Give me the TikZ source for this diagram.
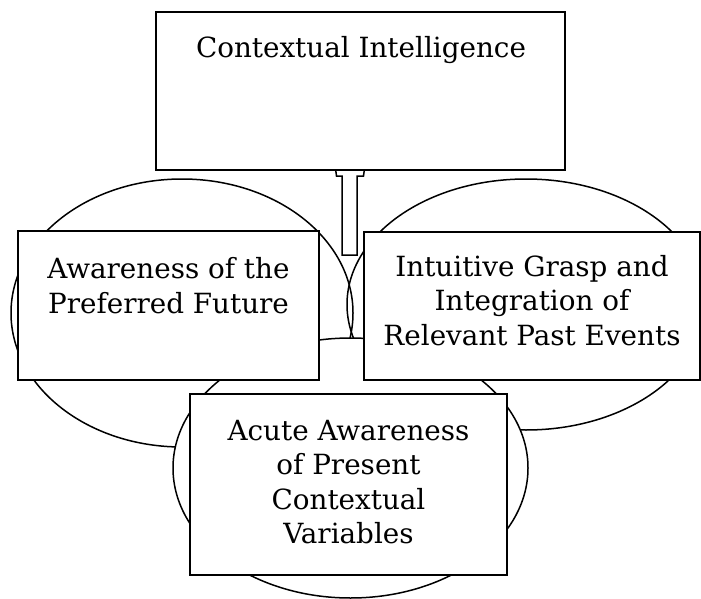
\documentclass[tikz,border=0pt]{standalone}
\usepackage{fontspec}
\setmainfont{DejaVu Serif}
\usetikzlibrary{shapes.geometric}
\tikzset{
  ell/.style={draw, ellipse, line width=1.5pt, inner sep=0pt},
  boxx/.style={draw, rectangle, fill=white, line width=1.5pt, inner sep=0pt},
  txt/.style={align=center, inner sep=0pt, font=\fontsize{27.8}{34.5}\selectfont},
}
\begin{document}
\begin{tikzpicture}[x=1pt,y=-1pt]
\useasboundingbox (0,0) rectangle (701,599);
% ellipses
\node[ell, minimum width=342pt, minimum height=268pt] (le) at (182,313) {};
\node[ell, minimum width=358pt, minimum height=251pt] (re) at (526,304.5) {};
\node[ell, fill=white, minimum width=355pt, minimum height=260pt] (be) at (350.5,468) {};
% block arrow
\draw[line width=1.5pt, fill=white]
  (342,255) -- (357,255) -- (357,176) -- (363.5,176) -- (365,165) -- (335,165)
  -- (336.5,176) -- (342,176) -- cycle;
% boxes
\node[boxx, minimum width=409pt, minimum height=158pt] (top) at (360.5,91) {};
\node[boxx, minimum width=301pt, minimum height=149pt] (lb) at (168.5,305.5) {};
\node[boxx, minimum width=336pt, minimum height=148pt] (rb) at (532,306) {};
\node[boxx, minimum width=317pt, minimum height=181pt] (bb) at (348.5,484.5) {};
% texts (anchor=base is the baseline of the last line)
\node[txt, anchor=base] (topt) at (361,58) {Contextual Intelligence};
\node[txt, anchor=base] (lbt) at (168.5,313) {Awareness of the\\Preferred Future};
\node[txt, anchor=base] (rbt) at (532,345) {Intuitive Grasp and\\Integration of\\Relevant Past Events};
\node[txt, anchor=base] (bbt) at (348.5,543.5) {Acute Awareness\\of Present\\Contextual\\Variables};
\end{tikzpicture}
\end{document}
